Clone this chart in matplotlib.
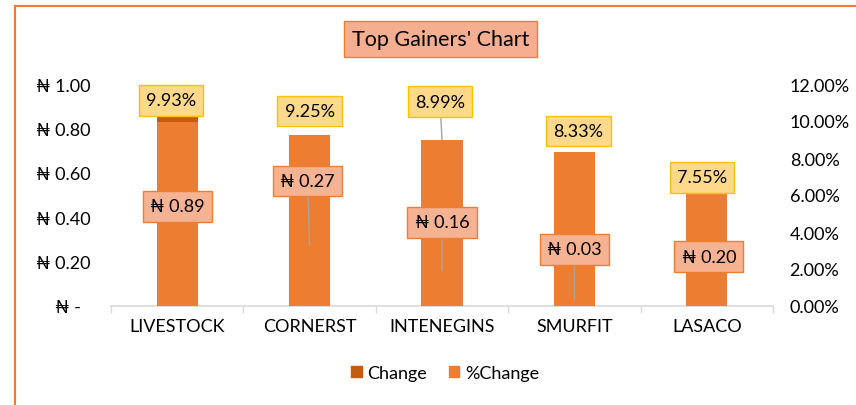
import numpy as np
import matplotlib
matplotlib.use('Agg')
import matplotlib.pyplot as plt
from matplotlib.patches import Patch, Rectangle
from matplotlib.ticker import FuncFormatter

plt.rcParams['font.family'] = ['Lato', 'Noto Sans', 'DejaVu Sans']

# 数据
categories = ['LIVESTOCK', 'CORNERST', 'INTENEGINS', 'SMURFIT', 'LASACO']
change = [0.89, 0.27, 0.16, 0.03, 0.20]
pct_change = [9.93, 9.25, 8.99, 8.33, 7.55]

# 标签位置（像素偏移）和引导线
chg_offsets = [(0, -98), (-2, 65), (0, 48), (0, 50), (2, 5)]
pct_offsets = [(-6, 22), (0, 24), (-2, 38), (4, 21), (-5, -11)]
chg_leader = [False, True, True, True, False]
pct_leader = [False, False, True, False, False]

dark = '#C55A11'
orange = '#ED7D31'
fs = 13

fig = plt.figure(figsize=(8.56, 4.06), dpi=100)
ax1 = fig.add_axes([111 / 856, 99 / 406, 662 / 856, 222 / 406])
ax2 = ax1.twinx()

x = np.arange(len(categories))
ax1.bar(x, change, width=0.31, color=dark, zorder=2)
ax2.bar(x, pct_change, width=0.31, color=orange, zorder=2)

ax1.set_xlim(-0.5, len(categories) - 0.5)
ax1.set_ylim(0, 1.0)
ax2.set_ylim(0, 12)
ax1.set_yticks(np.arange(0, 1.01, 0.2))
ax2.set_yticks(np.arange(0, 12.1, 2))


def naira(v, pos):
    if abs(v) < 1e-9:
        return '₦ -  '
    return f'₦ {v:.2f}'


ax1.yaxis.set_major_formatter(FuncFormatter(naira))
ax2.yaxis.set_major_formatter(FuncFormatter(lambda v, p: f'{v:.2f}%'))

ax1.set_xticks(x)
ax1.set_xticklabels(categories)
ax1.set_xticks(np.arange(-0.5, len(categories), 1), minor=True)
ax1.tick_params(axis='x', which='major', length=0, pad=9, labelsize=fs)
ax1.tick_params(axis='x', which='minor', length=5, color='#D9D9D9', width=1)
ax1.tick_params(axis='y', length=0, pad=15, labelsize=fs)
ax2.tick_params(axis='y', length=0, pad=12, labelsize=fs)

for ax in (ax1, ax2):
    for s in ax.spines.values():
        s.set_visible(False)
ax1.spines['bottom'].set_visible(True)
ax1.spines['bottom'].set_color('#D9D9D9')
ax1.spines['bottom'].set_linewidth(1.2)

leader = dict(arrowstyle='-', color='#A5A5A5', lw=1, shrinkA=0, shrinkB=0)

# 数据标签
for i in range(len(categories)):
    ax2.annotate(f'₦ {change[i]:.2f}', xy=(i, change[i]), xycoords=ax1.transData,
                 xytext=chg_offsets[i], textcoords='offset pixels',
                 ha='center', va='center', fontsize=fs, zorder=5,
                 bbox=dict(boxstyle='square,pad=0.4', fc='#F6B393', ec=orange, lw=1),
                 arrowprops=leader if chg_leader[i] else None)
    ax2.annotate(f'{pct_change[i]:.2f}%', xy=(i, pct_change[i]),
                 xytext=pct_offsets[i], textcoords='offset pixels',
                 ha='center', va='center', fontsize=fs, zorder=5,
                 bbox=dict(boxstyle='square,pad=0.4', fc='#FFD98A', ec='#FFC000', lw=1),
                 arrowprops=leader if pct_leader[i] else None)

# 标题
fig.text(440.5 / 856, 1 - 40 / 406, "Top Gainers' Chart", ha='center', va='center',
         fontsize=15.5, bbox=dict(boxstyle='square,pad=0.38', fc='#F5AE8F', ec=orange, lw=1))

# 图例
handles = [Patch(color=dark, label='Change'), Patch(color=orange, label='%Change')]
fig.legend(handles=handles, loc='center', bbox_to_anchor=(445 / 856, 1 - 374 / 406),
           ncol=2, frameon=False, fontsize=fs, handlelength=0.6, handleheight=0.6,
           handletextpad=0.3, columnspacing=1.2)

# 外框
fig.add_artist(Rectangle((15 / 856, -0.1), 1.2, 1.1 - 7 / 406, transform=fig.transFigure,
                         fill=False, ec=orange, lw=1.5, clip_on=False))

fig.savefig('out.png', dpi=100)
